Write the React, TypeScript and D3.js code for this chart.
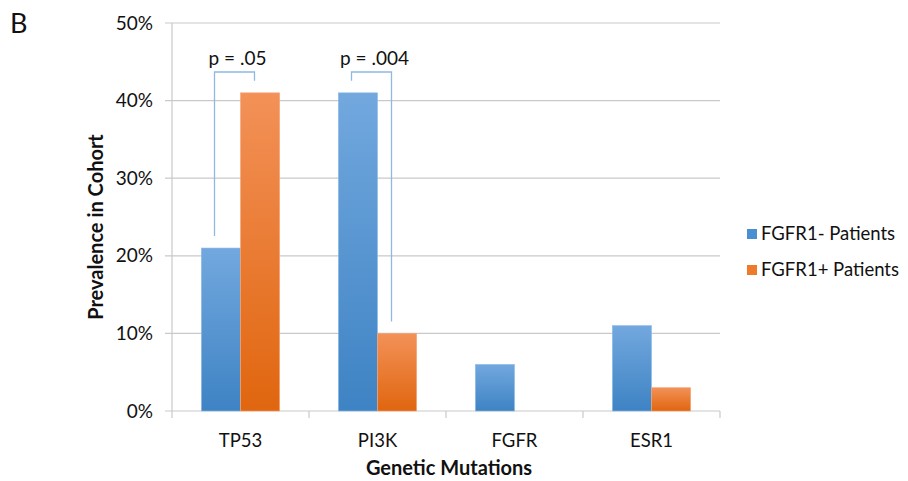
import React, { useEffect, useRef } from "react";
import * as d3 from "d3";

// values (fraction of cohort)
const categories = ["TP53", "PI3K", "FGFR", "ESR1"];
const seriesNames = ["FGFR1- Patients", "FGFR1+ Patients"];
const negValues = [0.21, 0.41, 0.06, 0.11];
const posValues = [0.41, 0.10, 0.0, 0.03];
const yTicks = [0, 0.1, 0.2, 0.3, 0.4, 0.5];
// significance brackets: category, label
const brackets = [
  { cat: "TP53", label: "p = .05" },
  { cat: "PI3K", label: "p = .004" },
];

const FONT = "Lato, 'Open Sans', sans-serif";

const App = () => {
  const ref = useRef<SVGSVGElement>(null);

  useEffect(() => {
    const svg = d3.select(ref.current);
    svg.selectAll("*").remove();

    const width = 908;
    const height = 481;
    const margin = { top: 23, right: 188, bottom: 70, left: 172 };
    const innerW = width - margin.left - margin.right;
    const innerH = height - margin.top - margin.bottom;

    svg.attr("width", width).attr("height", height);

    // gradients like the office bars
    const defs = svg.append("defs");
    const grads = [
      { id: "gBlue", top: "#72a8de", bottom: "#3e83c4" },
      { id: "gOrange", top: "#f39158", bottom: "#e0660f" },
    ];
    grads.forEach((g) => {
      const lg = defs
        .append("linearGradient")
        .attr("id", g.id)
        .attr("x1", 0)
        .attr("y1", 0)
        .attr("x2", 0)
        .attr("y2", 1);
      lg.append("stop").attr("offset", "0%").attr("stop-color", g.top);
      lg.append("stop").attr("offset", "100%").attr("stop-color", g.bottom);
    });

    const g = svg
      .append("g")
      .attr("transform", `translate(${margin.left},${margin.top})`);

    const x = d3.scaleBand().domain(categories).range([0, innerW]);
    const y = d3.scaleLinear().domain([0, 0.5]).range([innerH, 0]);

    // bars are 1/3.5 of band each (gap width 150%)
    const barW = x.bandwidth() / 3.5;
    const groupOffset = (x.bandwidth() - 2 * barW) / 2;

    // gridlines + left tick marks
    yTicks.forEach((t) => {
      g.append("line")
        .attr("x1", -7)
        .attr("x2", innerW)
        .attr("y1", y(t))
        .attr("y2", y(t))
        .attr("stroke", "#c9c9c9")
        .attr("stroke-width", 1.2);
      g.append("text")
        .attr("x", -19)
        .attr("y", y(t))
        .attr("dy", "0.35em")
        .attr("text-anchor", "end")
        .style("font-family", FONT)
        .style("font-size", "19px")
        .attr("fill", "#111")
        .text(d3.format(".0%")(t));
    });

    // y axis line
    g.append("line")
      .attr("x1", 0)
      .attr("x2", 0)
      .attr("y1", 0)
      .attr("y2", innerH)
      .attr("stroke", "#c9c9c9")
      .attr("stroke-width", 1.2);

    // x axis ticks at category boundaries
    const bounds = categories.map((c) => x(c) as number).concat([innerW]);
    bounds.forEach((b) => {
      g.append("line")
        .attr("x1", b)
        .attr("x2", b)
        .attr("y1", innerH)
        .attr("y2", innerH + 7)
        .attr("stroke", "#c9c9c9")
        .attr("stroke-width", 1.2);
    });

    // bars
    const series = [negValues, posValues];
    series.forEach((vals, si) => {
      categories.forEach((c, i) => {
        const v = vals[i];
        if (v <= 0) return;
        g.append("rect")
          .attr("x", (x(c) as number) + groupOffset + si * barW)
          .attr("y", y(v))
          .attr("width", barW)
          .attr("height", innerH - y(v))
          .attr("fill", `url(#${grads[si].id})`)
          .attr("stroke", si === 0 ? "#8dbbe6" : "#f5a57a")
          .attr("stroke-width", 0.6);
      });
    });

    // category labels
    categories.forEach((c) => {
      g.append("text")
        .attr("x", (x(c) as number) + x.bandwidth() / 2)
        .attr("y", innerH + 36)
        .attr("text-anchor", "middle")
        .style("font-family", FONT)
        .style("font-size", "18.5px")
        .attr("fill", "#111")
        .text(c);
    });

    // significance brackets
    const bracketY = 72 - margin.top;
    brackets.forEach((b) => {
      const i = categories.indexOf(b.cat);
      const cx = (x(b.cat) as number) + x.bandwidth() / 2;
      const xl = cx - 26;
      const xr = cx + 14;
      const yl = y(negValues[i]) - 12;
      const yr = y(posValues[i]) - 12;
      g.append("path")
        .attr("d", `M${xl},${yl}V${bracketY}H${xr}V${yr}`)
        .attr("fill", "none")
        .attr("stroke", "#8fb9e3")
        .attr("stroke-width", 1.3);
      g.append("text")
        .attr("x", cx - 3)
        .attr("y", bracketY - 7)
        .attr("text-anchor", "middle")
        .style("font-family", FONT)
        .style("font-size", "19px")
        .attr("fill", "#111")
        .text(b.label);
    });

    // axis titles
    g.append("text")
      .attr("x", innerW / 2 + 3)
      .attr("y", innerH + 64)
      .attr("text-anchor", "middle")
      .style("font-family", FONT)
      .style("font-size", "20px")
      .style("font-weight", "bold")
      .attr("fill", "#111")
      .text("Genetic Mutations");

    g.append("text")
      .attr("transform", `translate(${-69},${innerH / 2 + 10}) rotate(-90)`)
      .attr("text-anchor", "middle")
      .style("font-family", FONT)
      .style("font-size", "20px")
      .style("font-weight", "bold")
      .attr("fill", "#111")
      .text("Prevalence in Cohort");

    // legend
    const legend = svg.append("g").attr("transform", "translate(747,229)");
    seriesNames.forEach((name, i) => {
      legend
        .append("rect")
        .attr("x", 0)
        .attr("y", i * 36)
        .attr("width", 10)
        .attr("height", 10)
        .attr("fill", grads[i].id === "gBlue" ? "#4a8fd2" : "#ee7a2c");
      legend
        .append("text")
        .attr("x", 14)
        .attr("y", i * 36 + 5)
        .attr("dy", "0.35em")
        .style("font-family", FONT)
        .style("font-size", "18.5px")
        .attr("fill", "#111")
        .text(name);
    });

    // panel letter
    svg
      .append("text")
      .attr("x", 10)
      .attr("y", 33)
      .style("font-family", FONT)
      .style("font-size", "27px")
      .attr("fill", "#111")
      .text("B");
  }, []);

  return (
    <div style={{ position: "absolute", left: 0, top: 0 }}>
      <svg ref={ref}></svg>
    </div>
  );
};

export default App;
